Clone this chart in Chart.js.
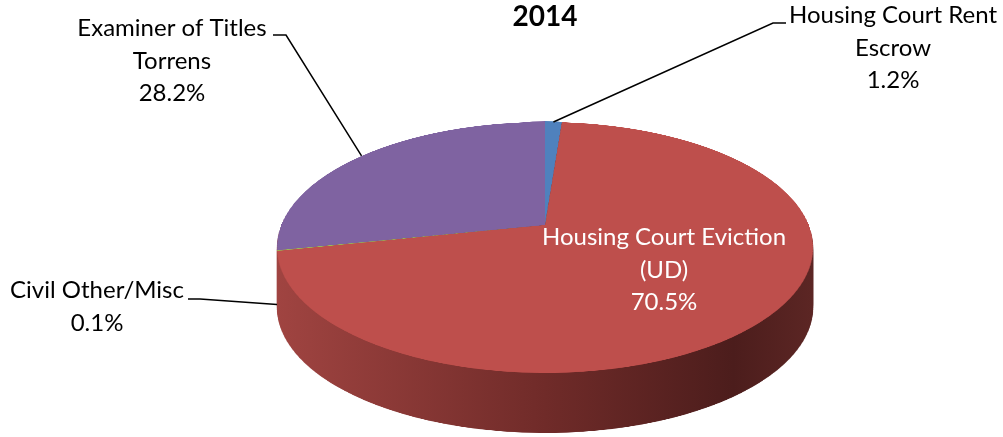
<!DOCTYPE html>
<html>
<head>
<meta charset="utf-8">
<script src="https://cdn.jsdelivr.net/npm/chart.js@4.4.1/dist/chart.umd.min.js"></script>
<style>
  html, body { margin: 0; padding: 0; background: #fff; }
  #wrap { width: 1003px; height: 437px; }
</style>
</head>
<body>
<div id="wrap"><canvas id="pie2014" width="1003" height="437"></canvas></div>
<script>
// data
const categories = ['Housing Court Rent Escrow', 'Housing Court Eviction (UD)', 'Civil Other/Misc', 'Examiner of Titles Torrens'];
const shares = [1.2, 70.5, 0.1, 28.2];
const labelLines = [['Housing Court Rent', 'Escrow'], ['Housing Court Eviction', '(UD)'], ['Civil Other/Misc'], ['Examiner of Titles', 'Torrens']];
const sliceColors = ['#4f81bd', '#be4f4c', '#9bbb59', '#7f63a1'];

const FONT = 'Lato, "Open Sans", sans-serif';

// perspective view of the disc: u across, w toward viewer (both -1..1)
function project(o, u, w) {
    const f = 1 / (1 - o.c * w);
    return [o.x0 + o.a * u * f, o.y0 + o.b * w * f];
}

// chart.js draws the flat pie off screen, then it is tilted row by row and given a side wall
const pie3d = {
    id: 'pie3d',
    beforeDatasetsDraw(chart, args, o) {
        const meta = chart.getDatasetMeta(0);
        const a0 = meta.data[0];
        const R = a0.outerRadius, px = a0.x, py = a0.y;
        const S = 400;
        const flat = document.createElement('canvas');
        flat.width = flat.height = 2 * S;
        const fctx = flat.getContext('2d');
        fctx.translate(S, S);
        fctx.scale(S / R, S / R);
        fctx.translate(-px, -py);
        meta.data.forEach((arc) => arc.draw(fctx));

        const W = chart.width, H = chart.height;
        const top = document.createElement('canvas');
        top.width = W; top.height = H;
        const tctx = top.getContext('2d');
        const yTop = Math.floor(o.y0 - o.b / (1 + o.c));
        const yBot = Math.ceil(o.y0 + o.b / (1 - o.c));
        const wAt = (y) => (y - o.y0) / (o.b + o.c * (y - o.y0));
        for (let y = yTop; y < yBot; y++) {
            const w0 = Math.max(-1, wAt(y)), w1 = Math.min(1, wAt(y + 1));
            if (w1 <= w0) continue;
            const f = 1 / (1 - o.c * wAt(y + 0.5));
            tctx.drawImage(flat, 0, S + w0 * S, 2 * S, (w1 - w0) * S, o.x0 - o.a * f, y, 2 * o.a * f, 1);
        }

        const side = document.createElement('canvas');
        side.width = W; side.height = H;
        const sctx = side.getContext('2d');
        for (let d = o.depth; d > 0; d--) sctx.drawImage(top, 0, d);
        sctx.globalCompositeOperation = 'source-in';
        const g = sctx.createLinearGradient(o.x0 - o.a * 1.02, 0, o.x0 + o.a * 1.02, 0);
        g.addColorStop(0, '#a04441');
        g.addColorStop(0.5, '#702b29');
        g.addColorStop(0.85, '#4c1d1c');
        g.addColorStop(1, '#5c2624');
        sctx.fillStyle = g;
        sctx.fillRect(0, 0, W, H);

        chart.ctx.drawImage(side, 0, 0);
        chart.ctx.drawImage(top, 0, 0);
        return false;
    }
};

// data labels with leader lines
const sliceLabels = {
    id: 'sliceLabels',
    afterDraw(chart, args, opts) {
        const ctx = chart.ctx;
        const meta = chart.getDatasetMeta(0);
        const p3 = chart.options.plugins.pie3d;
        ctx.save();
        ctx.font = opts.size + 'px ' + FONT;
        ctx.textAlign = 'center';
        ctx.textBaseline = 'alphabetic';
        meta.data.forEach((arc, i) => {
            const spot = opts.spots[i];
            const lines = labelLines[i].concat([shares[i].toFixed(1) + '%']);
            ctx.fillStyle = spot.color || '#000';
            lines.forEach((t, k) => ctx.fillText(t, spot.x, spot.y + k * opts.lineHeight));
            if (spot.lead) {
                const mid = (arc.startAngle + arc.endAngle) / 2;
                let [ex, ey] = project(p3, Math.cos(mid), Math.sin(mid));
                if (Math.sin(mid) > 0) ey += p3.depth * 0.9;
                ctx.beginPath();
                ctx.moveTo(spot.lead[0], spot.lead[1]);
                ctx.lineTo(spot.lead[2], spot.lead[3]);
                ctx.lineTo(ex, ey);
                ctx.strokeStyle = '#000';
                ctx.lineWidth = 1.5;
                ctx.stroke();
            }
        });
        ctx.restore();
    }
};

const pie2014 = new Chart(document.getElementById('pie2014'), {
    type: 'pie',
    data: {
        labels: categories,
        datasets: [{
            data: shares,
            backgroundColor: sliceColors,
            borderWidth: 0,
            clip: false
        }]
    },
    options: {
        responsive: false,
        animation: false,
        events: [],
        layout: { padding: { left: 87 } },
        plugins: {
            legend: { display: false },
            tooltip: { enabled: false },
            title: {
                display: true,
                text: '2014',
                fullSize: false,
                color: '#000',
                font: { family: FONT, size: 28, weight: 'bold' },
                padding: { top: 0, bottom: 4 }
            },
            pie3d: { x0: 545, y0: 225, a: 263.7, b: 121.5, c: 0.179, depth: 60 },
            sliceLabels: {
                size: 24,
                lineHeight: 32.5,
                spots: [
                    { x: 893, y: 23, lead: [786, 23, 773, 23] },
                    { x: 664, y: 245, color: '#fff' },
                    { x: 97, y: 298, lead: [188, 299, 200, 299] },
                    { x: 172, y: 36, lead: [273, 35, 286, 35] }
                ]
            }
        }
    },
    plugins: [pie3d, sliceLabels]
});
</script>
</body>
</html>
